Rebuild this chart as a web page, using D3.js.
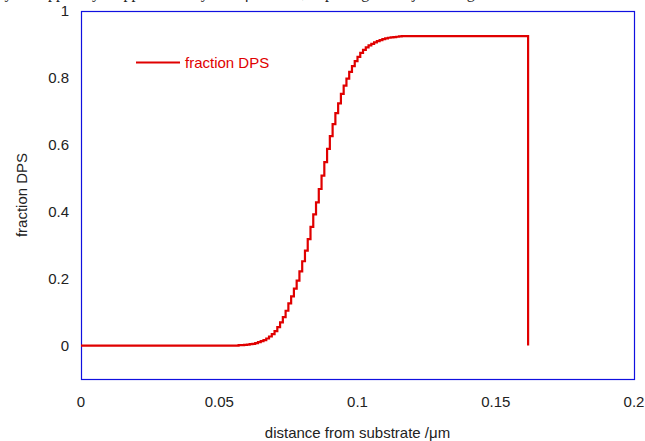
<!DOCTYPE html>
<html>
<head>
<meta charset="utf-8">
<script src="https://cdn.jsdelivr.net/npm/d3@7"></script>
<style>
  body { margin: 0; background: #fff; }
  svg { display: block; font-family: "Liberation Sans", Arial, sans-serif; }
</style>
</head>
<body>
<svg id="chart" width="645" height="441"></svg>
<script>
// distance from substrate (um) and DPS fraction
const distance = [
  0, 0.055, 0.056, 0.057, 0.058, 0.059, 0.060, 0.061, 0.062, 0.063, 0.064,
  0.065, 0.066, 0.067, 0.068, 0.069, 0.070, 0.071, 0.072, 0.073, 0.074,
  0.075, 0.076, 0.077, 0.078, 0.079, 0.080, 0.081, 0.082, 0.083, 0.084,
  0.085, 0.086, 0.087, 0.088, 0.089, 0.090, 0.091, 0.092, 0.093, 0.094,
  0.095, 0.096, 0.097, 0.098, 0.099, 0.100, 0.101, 0.102, 0.103, 0.104,
  0.105, 0.106, 0.107, 0.108, 0.109, 0.110, 0.111, 0.112, 0.113, 0.114,
  0.115, 0.116, 0.1617, 0.1617
];
const fractionDPS = [
  0, 0, 0, 0.001, 0.001, 0.002, 0.003, 0.004, 0.005, 0.007, 0.010,
  0.013, 0.016, 0.021, 0.027, 0.034, 0.043, 0.055, 0.069, 0.085, 0.104,
  0.126, 0.147, 0.170, 0.194, 0.222, 0.252, 0.284, 0.318, 0.355, 0.392,
  0.428, 0.468, 0.508, 0.548, 0.588, 0.626, 0.662, 0.695, 0.724, 0.752,
  0.777, 0.798, 0.818, 0.835, 0.850, 0.863, 0.875, 0.884, 0.891, 0.897,
  0.902, 0.906, 0.910, 0.913, 0.916, 0.918, 0.920, 0.921, 0.922, 0.923,
  0.924, 0.925, 0.925, 0
];
const xTicks = [0, 0.05, 0.1, 0.15, 0.2];
const yTicks = [0, 0.2, 0.4, 0.6, 0.8, 1];
const seriesName = 'fraction DPS';

const svg = d3.select('#chart');
const margin = { left: 81, right: 11, top: 11, bottom: 62 };
const W = 645, H = 441;
const red = '#e00000';
const blue = '#1010e0';

const x = d3.scaleLinear().domain([0, 0.2]).range([margin.left, W - margin.right]);
const y = d3.scaleLinear().domain([-0.1, 1]).range([H - margin.bottom, margin.top]);

// caption line cut off at the top of the picture
svg.append('text')
  .attr('x', 0)
  .attr('y', -2.5)
  .attr('font-family', '"Liberation Serif", "Times New Roman", serif')
  .attr('font-size', 16)
  .attr('fill', '#222')
  .text('ly the upper layer approximately 0.05 \u03bcm thick, depleting the adjacent region to the substrate where the');

// plot frame
svg.append('rect')
  .attr('x', x(0) + 0.5)
  .attr('y', y(1) + 0.5)
  .attr('width', x(0.2) - x(0))
  .attr('height', y(-0.1) - y(1))
  .attr('fill', 'none')
  .attr('stroke', blue)
  .attr('stroke-width', 1.2);

// y tick labels
svg.append('g')
  .selectAll('text')
  .data(yTicks)
  .join('text')
  .attr('x', x(0) - 12)
  .attr('y', (d) => y(d))
  .attr('dy', '0.36em')
  .attr('text-anchor', 'end')
  .attr('font-size', 15)
  .attr('fill', '#222')
  .text((d) => d3.format('~g')(d));

// x tick labels
svg.append('g')
  .selectAll('text')
  .data(xTicks)
  .join('text')
  .attr('x', (d) => x(d))
  .attr('y', 406.5)
  .attr('text-anchor', 'middle')
  .attr('font-size', 15)
  .attr('fill', '#222')
  .text((d) => d3.format('~g')(d));

// axis titles
svg.append('text')
  .attr('x', (x(0) + x(0.2)) / 2)
  .attr('y', 438)
  .attr('text-anchor', 'middle')
  .attr('font-size', 15)
  .attr('fill', '#222')
  .text('distance from substrate /\u03bcm');

svg.append('text')
  .attr('transform', `translate(27,${(y(1) + y(-0.1)) / 2}) rotate(-90)`)
  .attr('text-anchor', 'middle')
  .attr('font-size', 15)
  .attr('fill', '#222')
  .text('fraction DPS');

// step profile
const points = distance.map((d, i) => [d, fractionDPS[i]]);
const line = d3.line()
  .x((d) => x(d[0]))
  .y((d) => y(d[1]))
  .curve(d3.curveStepAfter);

svg.append('path')
  .datum(points)
  .attr('d', line)
  .attr('fill', 'none')
  .attr('stroke', red)
  .attr('stroke-width', 2.2);

// legend
const legend = svg.append('g').attr('transform', 'translate(136,62.5)');
legend.append('line')
  .attr('x1', 0)
  .attr('x2', 44)
  .attr('stroke', red)
  .attr('stroke-width', 2);
legend.append('text')
  .attr('x', 49)
  .attr('dy', '0.36em')
  .attr('font-size', 15)
  .attr('fill', red)
  .text(seriesName);
</script>
</body>
</html>
